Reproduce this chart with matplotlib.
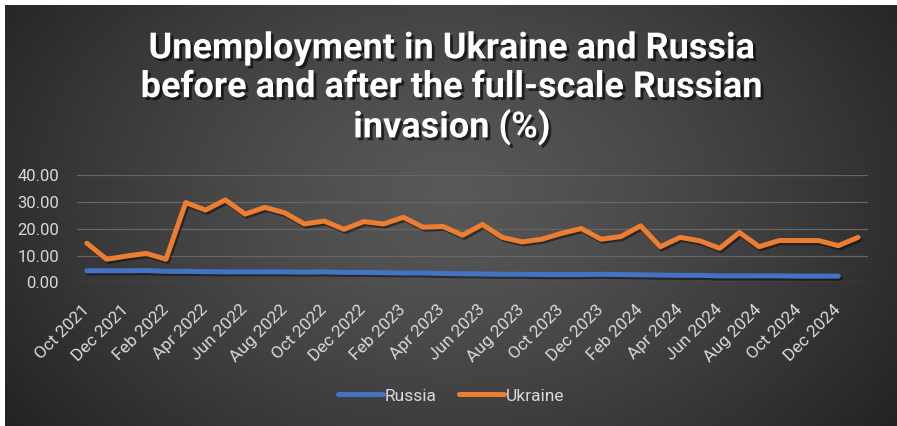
import numpy as np
import matplotlib
matplotlib.use("Agg")
import matplotlib.pyplot as plt
import matplotlib.patheffects as pe

# Monthly observations, Oct 2021 .. Jan 2025
months = ["Oct 2021", "Nov 2021", "Dec 2021", "Jan 2022", "Feb 2022", "Mar 2022",
          "Apr 2022", "May 2022", "Jun 2022", "Jul 2022", "Aug 2022", "Sep 2022",
          "Oct 2022", "Nov 2022", "Dec 2022", "Jan 2023", "Feb 2023", "Mar 2023",
          "Apr 2023", "May 2023", "Jun 2023", "Jul 2023", "Aug 2023", "Sep 2023",
          "Oct 2023", "Nov 2023", "Dec 2023", "Jan 2024", "Feb 2024", "Mar 2024",
          "Apr 2024", "May 2024", "Jun 2024", "Jul 2024", "Aug 2024", "Sep 2024",
          "Oct 2024", "Nov 2024", "Dec 2024", "Jan 2025"]

russia = [4.3, 4.3, 4.3, 4.4, 4.1, 4.1, 4.0, 3.9, 3.9, 3.9, 3.9, 3.8, 3.9,
          3.7, 3.7, 3.6, 3.5, 3.5, 3.3, 3.2, 3.1, 3.0, 3.0, 2.9, 2.9, 2.9,
          3.0, 2.9, 2.8, 2.7, 2.6, 2.6, 2.4, 2.4, 2.4, 2.4, 2.3, 2.3, 2.3]

ukraine = [14.6, 8.6, 9.8, 10.8, 8.6, 29.8, 27.0, 30.8, 25.5, 28.0, 26.0, 21.8,
           22.9, 19.8, 22.7, 21.8, 24.3, 20.6, 20.9, 17.6, 21.6, 16.8, 15.1, 16.1,
           18.3, 20.1, 16.1, 17.1, 21.1, 13.3, 16.8, 15.5, 12.7, 18.6, 13.3, 15.6,
           15.6, 15.6, 13.7, 16.8]

yticks = [0, 10, 20, 30, 40]

W, H = 897, 426
fig = plt.figure(figsize=(W / 100, H / 100), dpi=100, facecolor="white")

# Dark radial-gradient panel behind everything
bg = fig.add_axes([5 / W, 0, (W - 5) / W, (H - 5) / H], zorder=0)
gx, gy = np.meshgrid(np.linspace(0, 1, 400), np.linspace(0, 1, 200))
r = np.sqrt(((gx - 0.5) / 0.62) ** 2 + ((gy - 0.45) / 0.95) ** 2)
r = np.clip(r, 0, 1)
shade = (0x58 + (0x22 - 0x58) * r ** 1.3) / 255.0
img = np.dstack([shade, shade, shade])
bg.imshow(img, aspect="auto", extent=[0, 1, 0, 1], origin="upper")
bg.set_axis_off()

ax = fig.add_axes([77 / W, 1 - 282.3 / H, (868 - 77) / W, (282.3 - 175.3) / H], zorder=2)
ax.patch.set_alpha(0)

x_all = np.arange(len(months))
shadow = [pe.SimpleLineShadow(offset=(1.2, -1.5), shadow_color="black", alpha=0.45), pe.Normal()]
ax.plot(x_all[:len(russia)], russia, color="#4472C4", lw=3.6, solid_capstyle="round",
        solid_joinstyle="round", label="Russia", path_effects=shadow, zorder=3)
ax.plot(x_all[:len(ukraine)], ukraine, color="#ED7D31", lw=3.6, solid_capstyle="round",
        solid_joinstyle="round", label="Ukraine", path_effects=shadow, zorder=4)

ax.set_xlim(-0.5, len(months) - 0.5)
ax.set_ylim(0, 40)
ax.set_yticks(yticks)
ax.set_yticklabels([f"{v:.2f}" for v in yticks])
ax.set_xticks(x_all[::2])
ax.set_xticklabels(months[::2], rotation=45, ha="right", va="center", rotation_mode="anchor")
ax.grid(axis="y", color="#666666", lw=0.9)
ax.set_axisbelow(True)
for s in ax.spines.values():
    s.set_visible(False)
ax.tick_params(axis="both", length=0, colors="#d9d9d9")
ax.tick_params(axis="y", pad=13, labelsize=12)
ax.tick_params(axis="x", pad=18, labelsize=12.5)
for lab in ax.get_xticklabels() + ax.get_yticklabels():
    lab.set_fontfamily("Roboto")

leg = fig.legend(loc="center", bbox_to_anchor=(451 / W, 1 - 396 / H), ncol=2, frameon=False,
                 handlelength=2.6, handletextpad=0.1, columnspacing=1.3,
                 prop={"family": "Roboto", "size": 12.5})
for t in leg.get_texts():
    t.set_color("#d9d9d9")
for h in leg.get_lines():
    h.set_path_effects([])

fig.text(452 / W, 1 - 88 / H,
         "Unemployment in Ukraine and Russia\nbefore and after the full-scale Russian\ninvasion (%)",
         ha="center", va="center", color="white", fontsize=26, fontweight="bold",
         family=["Liberation Sans Narrow", "Roboto", "DejaVu Sans"], linespacing=1.1,
         path_effects=[pe.withSimplePatchShadow(offset=(2, -2), shadow_rgbFace="black", alpha=0.6)],
         zorder=5)

fig.savefig("out.png", dpi=100, facecolor="white")
